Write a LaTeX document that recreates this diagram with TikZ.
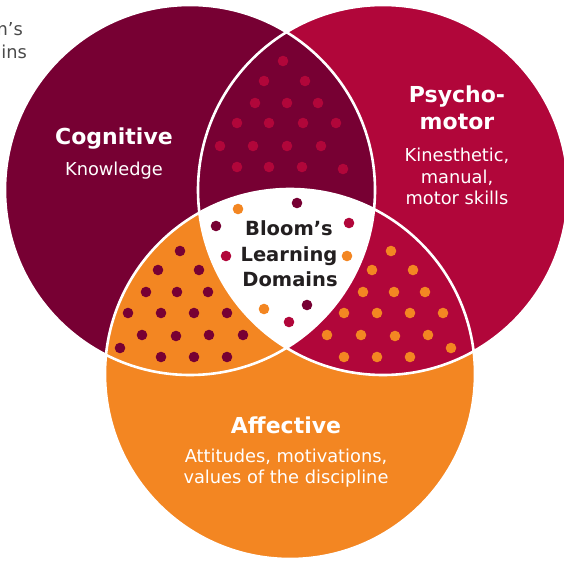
\documentclass[tikz,border=0pt]{standalone}
\usepackage{fontspec}
\setmainfont{DejaVu Sans}
\definecolor{cogcol}{HTML}{770033}
\definecolor{psycol}{HTML}{B1063A}
\definecolor{affcol}{HTML}{F38622}
\definecolor{inkcol}{HTML}{231F20}
\definecolor{greycol}{HTML}{4A4A4A}

\begin{document}
\begin{tikzpicture}[x=1pt,y=-1pt,
    heading/.style={font=\fontsize{22}{26}\selectfont\bfseries, text=white, anchor=base, inner sep=0pt},
    sub/.style={font=\fontsize{17.8}{21}\selectfont, text=white, anchor=base, inner sep=0pt},
    centre/.style={font=\fontsize{19.5}{24}\selectfont\bfseries, text=inkcol, anchor=base, inner sep=0pt},
    corner/.style={font=\fontsize{17.8}{21}\selectfont, text=greycol, anchor=base east, inner sep=0pt},
    ring/.style={draw=white, line width=2.6pt}]

    \def\cogcircle{(190,190) circle (185)}
    \def\psycircle{(383,190) circle (185)}
    \def\affcircle{(290,374) circle (185)}

    \useasboundingbox (0,0) rectangle (564,561);

    % the three domains
    \fill[psycol] \psycircle;
    \fill[cogcol] \cogcircle;
    \fill[affcol] \affcircle;
    \begin{scope}
        \clip \psycircle;
        \fill[psycol] \affcircle;
    \end{scope}
    \begin{scope}
        \clip \cogcircle;
        \clip \psycircle;
        \fill[white] \affcircle;
    \end{scope}
    \draw[ring] \cogcircle;
    \draw[ring] \psycircle;
    \draw[ring] \affcircle;

    % dots in the overlaps
    \foreach \p in {(283,61),(264,81),(305,81),(255,103),(287,103),(318,103),
        (237,123),(269,123),(303,123),(336,123),(220,146),(253,146),(287,146),
        (321,146),(237,167),(269,167),(302,167),(343,169),
        (349,223),(226,256),(289,322)}
        \fill[psycol] \p circle (5.3);
    \foreach \p in {(180,251),(158,270),(199,270),(146,292),(177,292),(208,292),
        (128,313),(161,313),(194,313),(227,313),(142,335),(176,336),(209,335),
        (243,335),(120,348),(161,357),(194,357),(227,357),
        (297,203),(216,226),(307,305)}
        \fill[cogcol] \p circle (5.3);
    \foreach \p in {(391,251),(372,270),(413,270),(363,292),(394,292),(425,292),
        (344,313),(377,313),(410,313),(443,313),(327,335),(361,335),(395,336),
        (428,335),(451,348),(344,357),(377,357),(410,357),
        (238,209),(347,256),(264,309)}
        \fill[affcol] \p circle (5.3);

    \node[corner] (title1) at (23,36) {Bloom’s};
    \node[corner] (title2) at (27,59) {Domains};

    \node[heading] (cog) at (114,145) {Cognitive};
    \node[sub] (cogtext) at (114,176) {Knowledge};

    \node[heading] (psy1) at (457,103) {Psycho-};
    \node[heading] (psy2) at (457,130) {motor};
    \node[sub] (psytext1) at (457,162) {Kinesthetic,};
    \node[sub] (psytext2) at (457,183.5) {manual,};
    \node[sub] (psytext3) at (457,205) {motor skills};

    \node[heading] (aff) at (286,433) {Affective};
    \node[sub] (afftext1) at (286,462) {Attitudes, motivations,};
    \node[sub] (afftext2) at (286,483) {values of the discipline};

    \node[centre] (mid1) at (289,235) {Bloom’s};
    \node[centre] (mid2) at (289,261) {Learning};
    \node[centre] (mid3) at (290,286.5) {Domains};
\end{tikzpicture}
\end{document}
